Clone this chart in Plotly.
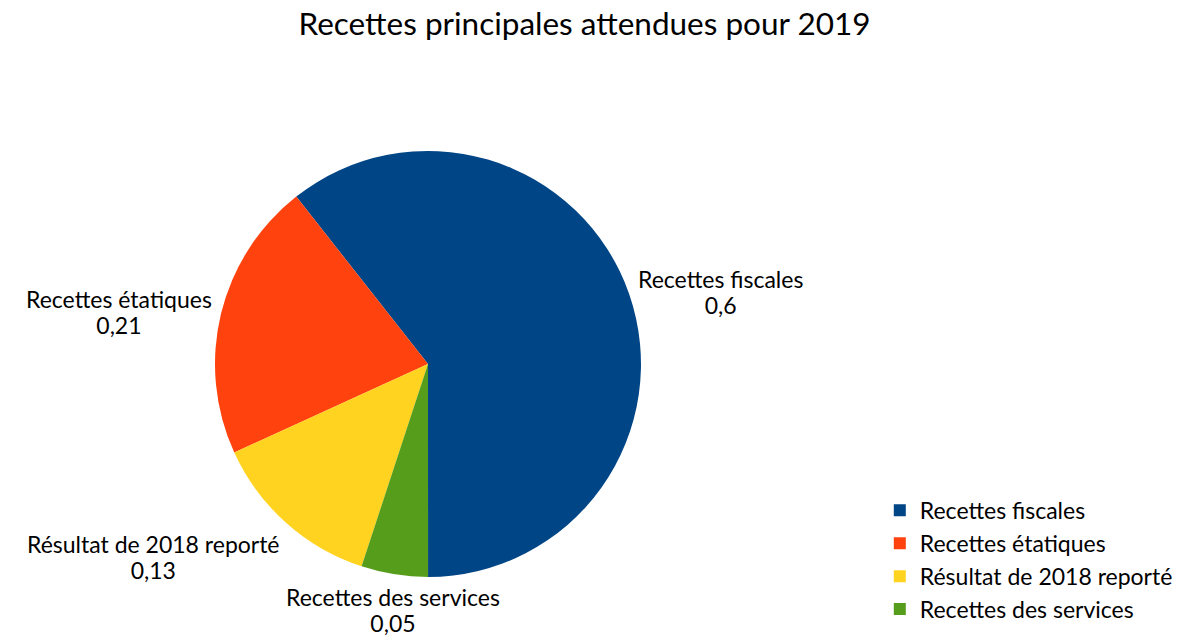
import math
import plotly.graph_objects as go

# Main expected revenues for 2019 (shares of total)
categories = ["Recettes fiscales", "Recettes étatiques", "Résultat de 2018 reporté", "Recettes des services"]
values = [0.6, 0.21, 0.13, 0.05]
colors = ["#004586", "#ff420e", "#ffd320", "#579d1c"]

# Figure geometry
W, H = 1197, 636
PIE_X = [0.1796, 0.5355]
PIE_Y = [0.0928, 0.7626]
ROTATION = -38.2        # angle (deg, clockwise from 12 o'clock) where the first slice ends
LABEL_GAP = 8           # px between the rim and the slice label
FONT = "Lato"
LABEL_SIZE = 23         # glyph size of slice labels
LABEL_LINE = 20         # base size driving the (tighter) line spacing of the labels


def fr_number(v):
    return f"{v:g}".replace(".", ",")


fig = go.Figure()
fig.add_trace(go.Pie(
    labels=categories,
    values=values,
    marker=dict(colors=colors, line=dict(width=0)),
    sort=False,
    direction="counterclockwise",
    rotation=ROTATION,
    textinfo="none",
    textposition="none",
    domain=dict(x=PIE_X, y=PIE_Y),
    automargin=False,
    hoverinfo="label+value",
    showlegend=True,
))

# Slice labels placed just outside the rim, at each slice's mid-angle
cx = W * (PIE_X[0] + PIE_X[1]) / 2
cy = H * (1 - (PIE_Y[0] + PIE_Y[1]) / 2)
radius = min(W * (PIE_X[1] - PIE_X[0]), H * (PIE_Y[1] - PIE_Y[0])) / 2
total = sum(values)
edge = ROTATION + 360 * values[0] / total
span_style = f'<span style="font-size:{LABEL_SIZE}px">'
for cat, val in zip(categories, values):
    span = 360 * val / total
    mid = math.radians(edge - span / 2)
    edge -= span
    dx, dy = math.sin(mid), -math.cos(mid)
    px = cx + dx * (radius + LABEL_GAP)
    py = cy + dy * (radius + LABEL_GAP)
    xanchor = "center" if abs(dx) < 0.35 else ("left" if dx > 0 else "right")
    yanchor = "middle" if abs(dy) < 0.5 else ("top" if dy > 0 else "bottom")
    fig.add_annotation(
        x=px / W, y=1 - py / H, xref="paper", yref="paper",
        text=f"{span_style}{cat}</span><br>{span_style}{fr_number(val)}</span>",
        showarrow=False, xanchor=xanchor, yanchor=yanchor, align="center",
        borderpad=0,
        font=dict(family=FONT, size=LABEL_LINE, color="#000000"),
    )

fig.update_layout(
    width=W,
    height=H,
    margin=dict(l=0, r=0, t=0, b=0, autoexpand=False),
    paper_bgcolor="#ffffff",
    plot_bgcolor="#ffffff",
    font=dict(family=FONT, size=23, color="#000000"),
    title=dict(
        text="Recettes principales attendues pour 2019",
        x=0.4883, xanchor="center",
        y=0.962, yanchor="middle",
        font=dict(family=FONT, size=31.5, color="#000000"),
    ),
    legend=dict(
        x=0.735, xanchor="left",
        y=0.008, yanchor="bottom",
        traceorder="normal",
        font=dict(family=FONT, size=23, color="#000000"),
    ),
)

fig.write_html("out.html")
